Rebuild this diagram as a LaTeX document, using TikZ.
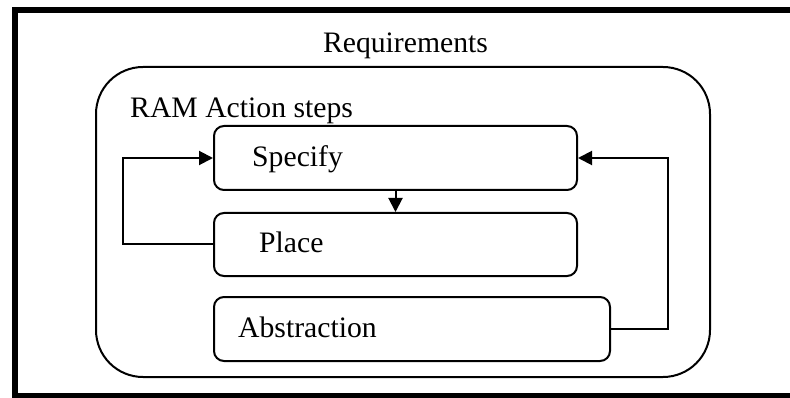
\documentclass[tikz,border=0pt]{standalone}
\usepackage{fontspec}
\setmainfont{Liberation Serif}
\usepackage{tikz}
\usetikzlibrary{arrows.meta, positioning}
\tikzset{
  stepbox/.style={
    rectangle,
    draw=black,
    line width=2pt,
    rounded corners=10pt,
    inner sep=0pt
  },
  steptext/.style={
    anchor=base west,
    inner sep=0pt,
    font=\fontsize{29.7pt}{36pt}\selectfont
  },
  arrow/.style={
    line width=2pt,
    -{Triangle[length=14pt,width=14pt]}
  }
}

\begin{document}
\begin{tikzpicture}[x=1pt, y=-1pt]
  \useasboundingbox (0,0) rectangle (790,398);
  \clip (0,0) rectangle (790,398);

  % Frame
  \draw[line width=5.5pt] (820,10) -- (15,10) -- (15,396) -- (820,396);
  \node[steptext, anchor=base] (req) at (405.5,53) {Requirements};

  % RAM action steps
  \node[stepbox, rounded corners=47pt, minimum width=614pt, minimum height=310pt] (ram) at (403,222) {};
  \node[steptext] (ramlabel) at (130,118) {RAM Action steps};

  % Boxes
  \node[stepbox, minimum width=363pt, minimum height=64pt] (specify) at (395.5,158) {};
  \node[stepbox, minimum width=363pt, minimum height=63pt] (place) at (395.5,244.5) {};
  \node[stepbox, minimum width=396pt, minimum height=64pt] (abstraction) at (412,329) {};

  \node[steptext] (specifytext) at (252,166.5) {Specify};
  \node[steptext] (placetext) at (259,252.5) {Place};
  \node[steptext] (abstractiontext) at (238,337) {Abstraction};

  % Connectors
  \draw[arrow] (specify.south) -- (place.north);
  \draw[arrow] (place.west) -- ++(-90,0) |- (specify.west);
  \draw[arrow] (abstraction.east) -- ++(57,0) |- (specify.east);
\end{tikzpicture}
\end{document}
